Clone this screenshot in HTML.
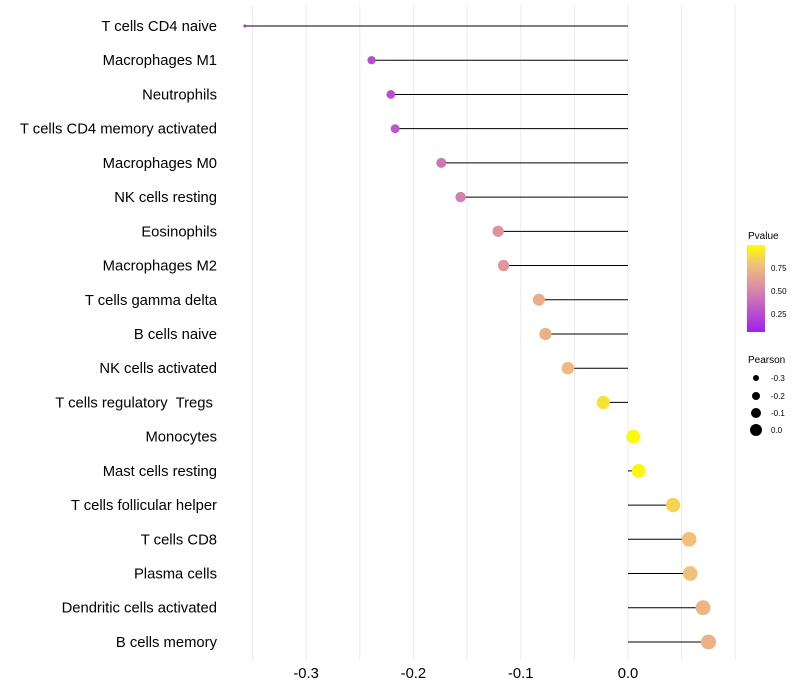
<!DOCTYPE html>
<html><head><meta charset="utf-8"><style>
body{margin:0;background:#fff;}
svg{display:block;font-family:"Liberation Sans",sans-serif;}
</style></head><body>
<svg id="chart" width="800" height="700">
<defs><linearGradient id="pg" x1="0" y1="1" x2="0" y2="0">
<stop offset="0" stop-color="#a020f0"/><stop offset="0.5" stop-color="#d98aa8"/><stop offset="0.78" stop-color="#f2c07a"/><stop offset="1" stop-color="#ffff00"/></linearGradient></defs>
<g id="grid"></g><g id="marks"></g><g id="labels"></g>
<g>
<text x="748" y="239" font-size="10">Pvalue</text>
<rect x="747" y="245" width="18" height="87" fill="url(#pg)"/>
<text x="771" y="271" font-size="8">0.75</text>
<text x="771" y="294" font-size="8">0.50</text>
<text x="771" y="317" font-size="8">0.25</text>
</g>
<g>
<text x="748" y="363" font-size="10">Pearson</text>
<circle cx="756" cy="378" r="3" fill="#000"/><text x="771" y="381" font-size="8">-0.3</text>
<circle cx="756" cy="396" r="4" fill="#000"/><text x="771" y="399" font-size="8">-0.2</text>
<circle cx="756" cy="413" r="5" fill="#000"/><text x="771" y="416" font-size="8">-0.1</text>
<circle cx="756" cy="430" r="6" fill="#000"/><text x="771" y="433" font-size="8">0.0</text>
</g>
</svg>
<script>
const categories=["T cells CD4 naive","Macrophages M1","Neutrophils","T cells CD4 memory activated","Macrophages M0","NK cells resting","Eosinophils","Macrophages M2","T cells gamma delta","B cells naive","NK cells activated","T cells regulatory  Tregs ","Monocytes","Mast cells resting","T cells follicular helper","T cells CD8","Plasma cells","Dendritic cells activated","B cells memory"];
const pearson=[-0.357,-0.239,-0.221,-0.217,-0.174,-0.156,-0.121,-0.116,-0.083,-0.077,-0.056,-0.023,0.005,0.010,0.042,0.057,0.058,0.070,0.075];
const pvalues=[0.02,0.2,0.22,0.25,0.4,0.45,0.55,0.58,0.68,0.7,0.75,0.9,0.98,0.97,0.85,0.78,0.78,0.72,0.7];
const xTicks=[-0.3,-0.2,-0.1,0.0];
const xTickLabels=["-0.3","-0.2","-0.1","0.0"];
const NS="http://www.w3.org/2000/svg";
const x=v=>628+v*1073;
const y=i=>26+i*34.22;
function mk(t,a,p){const e=document.createElementNS(NS,t);for(const k in a)e.setAttribute(k,a[k]);p.appendChild(e);return e;}
function lerp(a,b,t){return a+(b-a)*t;}
const stops=[[0,[160,32,240]],[0.5,[217,138,168]],[0.78,[242,192,122]],[1,[255,255,0]]];
function col(p){for(let i=1;i<stops.length;i++){if(p<=stops[i][0]){const t=(p-stops[i-1][0])/(stops[i][0]-stops[i-1][0]);const c=stops[i-1][1].map((v,j)=>Math.round(lerp(v,stops[i][1][j],t)));return `rgb(${c})`;}}return "rgb(255,255,0)";}
const grid=document.getElementById('grid'),marks=document.getElementById('marks'),labels=document.getElementById('labels');
for(let v=-0.35;v<=0.101;v+=0.05){const g=mk('line',{x1:x(v),x2:x(v),y1:5,y2:660,stroke:'#ebebeb','stroke-width':1},grid);

}
const mn=Math.min(...pearson),mx=Math.max(...pearson);
categories.forEach((c,i)=>{
const t=mk('text',{x:217,y:y(i)+5,'text-anchor':'end','font-size':14.8,fill:'#000'},labels);t.textContent=c;
t.setAttribute('style','white-space:pre');


const l=mk('line',{x1:x(0),x2:x(pearson[i]),y1:y(i),y2:y(i),stroke:'#000','stroke-width':1},marks);


const tt=(pearson[i]-mn)/(mx-mn);
const r=Math.sqrt(2.25+54*tt);
const d=mk('circle',{cx:x(pearson[i]),cy:y(i),r:r,fill:col(pvalues[i])},marks);


});
xTicks.forEach((v,i)=>{const t=mk('text',{x:x(v),y:678,'text-anchor':'middle','font-size':14.8,fill:'#000'},labels);t.textContent=xTickLabels[i];

});
</script>
</body></html>
